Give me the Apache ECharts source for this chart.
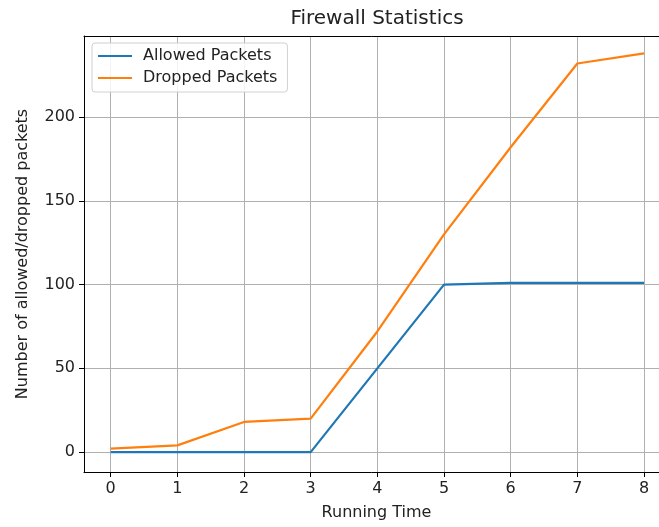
<!DOCTYPE html>
<html>
<head>
<meta charset="utf-8">
<script src="https://cdn.jsdelivr.net/npm/echarts@6/dist/echarts.min.js"></script>
<style>
  html, body { margin: 0; padding: 0; background: #fff; }
  #main { width: 659px; height: 527px; }
</style>
</head>
<body>
<div id="main"></div>
<script>
// running time steps and packet counts
var runningTime = [0, 1, 2, 3, 4, 5, 6, 7, 8];
var allowedPackets = [0, 0, 0, 0, 50, 100, 101, 101, 101];
var droppedPackets = [2, 4, 18, 20, 72, 130, 182, 232, 238];

var font = 'DejaVu Sans';
var textColor = '#222';

function pairs(xs, ys) {
  var out = [];
  for (var i = 0; i < xs.length; i++) {
    out.push([xs[i], ys[i]]);
  }
  return out;
}

// only whole numbers get a label (the padded ends stay blank)
function intLabel(v) {
  return Math.abs(v - Math.round(v)) < 1e-6 ? String(Math.round(v)) : '';
}

var myChart = echarts.init(document.getElementById('main'));

myChart.setOption({
  animation: false,
  backgroundColor: '#fff',
  title: {
    text: 'Firewall Statistics',
    left: 372,
    top: 4,
    textAlign: 'center',
    textStyle: { fontFamily: font, fontSize: 20, fontWeight: 'normal', color: textColor }
  },
  legend: {
    orient: 'vertical',
    left: 92,
    top: 43,
    padding: [5, 10, 6, 6],
    itemGap: 6,
    itemWidth: 34,
    itemHeight: 2,
    icon: 'rect',
    backgroundColor: 'rgba(255,255,255,0.85)',
    borderColor: '#d0d0d0',
    borderWidth: 1,
    borderRadius: 3,
    textStyle: { fontFamily: font, fontSize: 16, color: textColor, padding: [0, 0, 0, 6] },
    data: ['Allowed Packets', 'Dropped Packets']
  },
  grid: {
    left: 84,
    top: 36,
    right: 0,
    bottom: 55,
    show: false,
    containLabel: false
  },
  xAxis: [
    {
      type: 'value',
      min: -0.4,
      max: 8.225,   // the figure is cut off on the right, before the 8.4 edge
      splitNumber: 9,
      name: 'Running Time',
      nameLocation: 'middle',
      nameGap: 33,
      nameTextStyle: { fontFamily: font, fontSize: 16, color: textColor, padding: [0, 0, 0, 10] },
      axisLine: { show: true, onZero: false, lineStyle: { color: '#000', width: 1 } },
      axisTick: { show: true, length: 5, lineStyle: { color: '#000' } },
      axisLabel: {
        fontFamily: font, fontSize: 16, color: textColor, margin: 9,
        showMinLabel: false, showMaxLabel: false,
        formatter: intLabel
      },
      splitLine: { show: true, lineStyle: { color: '#b0b0b0', width: 1 } }
    },
    {
      // top spine only
      type: 'value',
      position: 'top',
      min: -0.4,
      max: 8.225,
      axisLine: { show: true, onZero: false, lineStyle: { color: '#000', width: 1 } },
      axisTick: { show: false },
      axisLabel: { show: false },
      splitLine: { show: false }
    }
  ],
  yAxis: {
    type: 'value',
    min: -11.9,
    max: 248.4,
    splitNumber: 5,
    name: 'Number of allowed/dropped packets',
    nameLocation: 'middle',
    nameGap: 53,
    nameTextStyle: { fontFamily: font, fontSize: 16, color: textColor },
    axisLine: { show: true, onZero: false, lineStyle: { color: '#000', width: 1 } },
    axisTick: { show: true, length: 5, lineStyle: { color: '#000' } },
    axisLabel: {
      fontFamily: font, fontSize: 16, color: textColor, margin: 9,
      showMinLabel: false, showMaxLabel: false,
      formatter: intLabel
    },
    splitLine: { show: true, lineStyle: { color: '#b0b0b0', width: 1 } }
  },
  series: [
    {
      name: 'Allowed Packets',
      type: 'line',
      data: pairs(runningTime, allowedPackets),
      showSymbol: false,
      color: '#1f77b4',
      lineStyle: { width: 2.2 },
      z: 3
    },
    {
      name: 'Dropped Packets',
      type: 'line',
      data: pairs(runningTime, droppedPackets),
      showSymbol: false,
      color: '#ff7f0e',
      lineStyle: { width: 2.2 },
      z: 3
    }
  ]
});
</script>
</body>
</html>
